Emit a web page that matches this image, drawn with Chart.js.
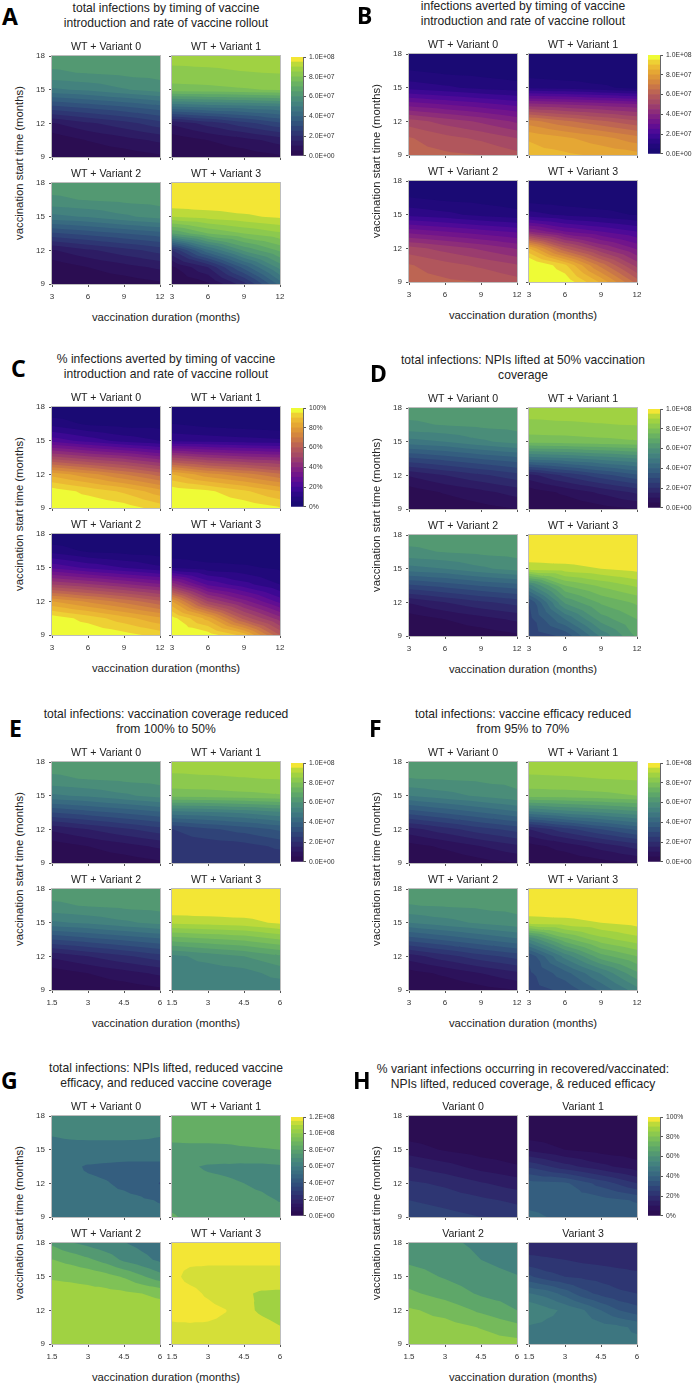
<!DOCTYPE html>
<html>
<head>
<meta charset="utf-8">
<title>vaccination timing contours</title>
<script src="https://cdn.jsdelivr.net/npm/chart.js@4/dist/chart.umd.min.js"></script>
<style>
  body { margin: 0; background: #fff; }
  #page { position: relative; width: 694px; height: 1385px; overflow: hidden; font-family: "Liberation Sans", sans-serif; color: #222; }
  #page canvas { position: absolute; }
  .txt { position: absolute; white-space: nowrap; }
  .title { font-size: 12.1px; line-height: 14.6px; text-align: center; transform: translateX(-50%); }
  .axis { font-size: 11.3px; line-height: 14px; transform: translate(-50%, -50%); }
  .axis.rot { transform: translate(-50%, -50%) rotate(-90deg); }
  .letter { font-family: "Noto Sans", sans-serif; font-weight: 700; font-size: 23px; line-height: 23px; color: #000; }
</style>
</head>
<body>
<div id="page"></div>
<script>
// grid the model was read on, every table below is one list per x column, values at yGrid (9 -> 18)
const yGrid = [9, 10.5, 12, 13.5, 15, 16.5, 18];
const xGridLong = [3, 6, 9, 12];
const xGridShort = [1.5, 3, 4.5, 6];
const xGridShortFine = [1.5, 2.25, 3, 3.75, 4.5, 5.25, 6];

const xTicksLong = [3, 6, 9, 12];
const xTicksShort = [1.5, 3, 4.5, 6];
const yTicks = [9, 12, 15, 18];

const barTicks100 = [0, 20, 40, 60, 80, 100];
const barTicks120 = [0, 20, 40, 60, 80, 100, 120];
const sciLabels100 = ['0.0E+00', '2.0E+07', '4.0E+07', '6.0E+07', '8.0E+07', '1.0E+08'];
const sciLabels120 = ['0.0E+00', '2.0E+07', '4.0E+07', '6.0E+07', '8.0E+07', '1.0E+08', '1.2E+08'];
const pctLabels = ['0%', '20%', '40%', '60%', '80%', '100%'];

const wtTitles = ['WT + Variant 0', 'WT + Variant 1', 'WT + Variant 2', 'WT + Variant 3'];
const variantTitles = ['Variant 0', 'Variant 1', 'Variant 2', 'Variant 3'];

// A: total infections (millions)
const a0 = [[0, 1.5, 9.5, 29, 49, 59.4, 62], [1, 5.2, 14, 32, 51, 60.3, 62], [2, 8, 18, 35, 54.5, 61.3, 62], [4, 11, 23, 38.5, 57.5, 61.9, 62]];
const a1 = [[0, 1.5, 11, 45, 78, 83.5, 87], [1, 5, 17, 47, 78.5, 84, 87], [2, 8, 23, 48, 79.5, 84.8, 87], [4, 12, 29, 50, 80.5, 85.2, 87]];
const a2 = [[0, 1.5, 9.5, 29, 48.5, 59.2, 62], [1, 5, 14, 32, 50.5, 60.3, 62], [2, 8, 18, 35, 54, 61.2, 62], [4, 11, 22, 38, 57, 61.8, 62]];
const a3 = [[0, 4, 20, 65, 90, 100, 100], [4, 15, 44, 75, 92, 100, 100], [18, 37, 61, 80, 94, 100, 100], [42, 57, 71, 84, 96, 100, 100]];
// B: infections averted (millions)
const b0 = [[62, 60.5, 52.5, 33, 13, 5.2, 0], [61, 56.8, 48, 30, 11, 3.5, 0], [60, 54, 44, 27, 8.5, 3, 0], [56.5, 50, 39, 23.5, 7, 2, 0]];
const b1 = [[87, 84.5, 72, 42, 9, 2, 0], [86, 81, 66, 40, 8, 1, 0], [84, 77, 61, 38, 6, 1, 0], [82, 72, 56, 36, 3.5, 1, 0]];
const b2 = [[62, 60.5, 52, 33, 13.5, 5.2, 0], [61, 57, 48, 30, 11.5, 3.5, 0], [60, 54, 44, 27, 8.5, 3, 0], [57, 50.5, 39.5, 24, 6.5, 2, 0]];
const b3 = [[105, 103, 85, 40, 12, 2, 0], [99, 91, 60, 30, 9, 1, 0], [84, 68, 45, 25, 7, 0.5, 0], [63, 48, 34, 20, 4.5, 0.5, 0]];
// C: % infections averted
const c0 = [[100, 98, 83, 52, 23, 8, 0], [99.5, 93.5, 77, 47, 18, 4, 0], [97.5, 89, 70, 43, 13, 3, 0], [93, 82, 63, 37, 10, 3, 0]];
const c1 = [[100, 98.5, 85, 50, 14, 5, 0], [99.5, 96, 77, 45, 13, 3, 0], [98.5, 91, 72, 42, 12, 2, 0], [95.5, 85, 66, 40, 11, 1, 0]];
const c2 = [[100, 98, 80, 50, 24, 8, 0], [99.5, 93, 74, 46, 19, 4, 0], [97, 87, 68, 41, 15, 3, 0], [93, 81, 61, 36, 11, 2, 0]];
const c3 = [[100, 97, 80, 43, 10, 1, 0], [98, 83, 50, 24, 7, 0.5, 0], [88, 58, 37, 17, 6, 0.5, 0], [60, 42, 23, 10, 4, 0, 0]];
// D: total infections, NPIs lifted
const d0 = [[0, 2, 10.5, 29, 48, 59.2, 62], [1, 5.5, 15, 32, 50, 60.3, 62], [3, 8.5, 19, 35.5, 54, 61.2, 62], [5, 12, 23, 38.5, 57, 61.8, 62]];
const d1 = [[0, 2, 13, 47, 77, 84, 87], [1, 6, 21, 49, 77.5, 84.4, 87], [3, 11, 28, 52, 78.5, 84.8, 87], [5, 16, 34, 55, 79.5, 85.2, 87]];
const d2 = [[0, 2, 10.5, 29, 48, 59, 62], [1, 5, 15, 32, 50, 60.3, 62], [2, 8, 19, 35.5, 54, 61.2, 62], [4, 11, 22, 38, 57, 61.8, 62]];
const d3 = [[27, 28, 30, 53, 92, 100, 100], [31, 45, 61, 75, 93, 100, 100], [51, 62.5, 71, 81, 95, 100, 100], [66, 70, 76, 86, 97, 100, 100]];
// E: total infections, coverage reduced
const e0 = [[0, 2, 11, 30, 49, 59.2, 62], [1, 5, 15, 33, 51, 60.3, 62], [2, 8, 19, 36, 54, 61.2, 62], [4, 11, 23, 39, 57, 61.8, 62]];
const e1 = [[21, 22, 24.9, 48, 77, 84, 87], [21, 22, 29, 49, 77.5, 84.4, 87], [21, 23, 32, 51, 78.5, 84.8, 87], [21, 26, 36, 54, 79.5, 85.2, 87]];
const e2 = [[0, 2, 11, 30, 49, 59.2, 62], [1, 5, 15, 33, 51, 60.3, 62], [2, 8, 19, 36, 54, 61.2, 62], [4, 11, 23, 39, 56.5, 61.8, 62]];
const e3 = [[51, 52, 53.5, 72, 91, 100, 100], [51, 52, 57, 74, 92, 100, 100], [51, 53, 60, 76, 93, 100, 100], [51, 57, 64, 80, 96, 100, 100]];
// F: total infections, efficacy reduced
const f0 = [[0, 3, 13, 32, 50, 59.9, 62], [1, 6, 18, 36, 53, 60.4, 62], [3, 10, 23, 40, 56, 61, 62], [5, 14, 27, 44, 59, 61.5, 62]];
const f1 = [[0, 3, 15, 48, 77, 84.3, 87], [1, 7, 23, 52, 77.5, 84.6, 87], [3, 12, 30, 55, 78.5, 85, 87], [5, 17, 36, 58, 80, 85.5, 87]];
const f2 = [[0, 3, 12.5, 32, 50, 59.8, 62], [1, 6, 18, 36, 53, 60.4, 62], [3, 10, 23, 40, 56, 61, 62], [5, 14, 27, 44, 58.5, 61.5, 62]];
const f3 = [[28, 29, 31, 55, 92, 100, 100], [31, 38, 52, 73, 93, 100, 100], [41, 50.5, 68, 83, 95, 100, 100], [53, 64, 75, 88, 97, 100, 100]];
// G: total infections, everything reduced
const g0 = [[53, 53, 53, 53, 56.5, 61, 66], [53, 53, 52, 52, 57, 62, 66], [53, 52.5, 51.5, 49, 57.5, 62, 66], [53, 52, 50.5, 48, 57.5, 62, 66], [53, 52, 48.5, 47, 57.5, 62, 66], [52.5, 51, 46, 47, 57, 62, 66], [52, 49.5, 39.5, 47, 57, 61, 66]];
const g1 = [[81, 77, 74, 73, 77, 84, 87], [78, 76, 73, 71, 77.5, 84, 87], [77, 75, 72, 69, 77.5, 84, 87], [76, 74, 71, 68.5, 78, 84, 87], [75, 73, 70, 68, 79, 84, 87], [74, 72, 68, 68, 79.5, 84, 87], [74, 69.5, 65, 69, 80, 84, 87]];
const g2 = [[105, 105, 105, 104, 99, 90.3, 78], [105, 105, 105, 104, 98, 87, 71], [105, 105, 105, 103, 97, 82, 67], [105, 105, 105, 103, 94, 76, 63], [105, 105, 105, 102, 89, 68, 60.5], [105, 105, 105, 100, 81.5, 63, 57], [105, 105, 104, 98, 74, 58, 54]];
const g3 = [[116, 119, 122, 123, 122, 122, 124], [116, 119, 123, 122, 118, 121.5, 124], [116, 119, 122, 119, 117, 121.5, 124], [116, 118.5, 120.2, 116, 117, 121.5, 124], [116, 117, 113, 111.5, 117, 121.5, 124], [116, 114, 108, 108.5, 117, 121.5, 124], [116, 110.5, 105, 108, 117, 121.5, 124]];
// H: % variant infections in recovered/vaccinated
const h0 = [[29, 25, 21, 15, 7.5, 2.5, 1], [27, 23, 19, 12, 4.5, 1.5, 1], [25, 21, 15.5, 8, 2.5, 1, 1], [23, 19, 12.5, 5.5, 1.5, 1, 1]];
const h1 = [[41, 38.5, 37, 24, 9, 2, 1], [39, 38, 36, 17, 5, 1.5, 1], [38.5, 37, 28, 11.5, 3, 1, 1], [37.5, 34.5, 20, 7, 2, 1, 1]];
const h2 = [[86.4, 84, 81.2, 73.6, 68, 62.4, 60.8], [85.6, 83.2, 77.2, 68.8, 63.2, 60, 57.6], [83.2, 79.6, 70.4, 62.8, 59.2, 56, 54.4], [83.2, 74.4, 64, 60, 56.4, 52.8, 51.2]];
const h3 = [[48, 49.5, 54.9, 45.3, 31, 21, 17.5], [47.5, 48.5, 51.5, 43, 27, 20.5, 17.5], [47, 48, 49, 38, 25, 20, 17], [47, 47.5, 45.5, 32, 24, 19, 16.5], [46.5, 47, 40, 28.5, 23, 18.5, 16], [46, 46, 35, 26, 22, 18, 16], [46.5, 44, 32, 25, 21, 18, 16]];

// colour stops picked off the colour bars
const viridisStops = ['#2a0a4d', '#2c1560', '#2e2f70', '#2f4a7a', '#366480', '#3f7c80', '#4e9376', '#62ac66', '#82c454', '#aad63c', '#f3e635'];
const plasmaStops = ['#160a70', '#24087f', '#44089a', '#6a108f', '#86257f', '#a04468', '#b75c58', '#cf7e42', '#e29e34', '#eec233', '#eefb36'];

function mapColor(stops, t) {
  if (t > 0.97) t = 1; // top band is the pure end colour
  const p = Math.min(0.9999, Math.max(0, t)) * (stops.length - 1);
  const i = Math.floor(p), f = p - i;
  const c = s => [1, 3, 5].map(k => parseInt(s.substr(k, 2), 16));
  const a = c(stops[i]), b = c(stops[i + 1]);
  return 'rgb(' + a.map((v, k) => Math.round(v + (b[k] - v) * f)).join(',') + ')';
}

const panels = [
  { letter: 'A', lx: 2, ly: 5, title: ['total infections by timing of vaccine', 'introduction and rate of vaccine rollout'], ty: 1, left: 52, left2: 172, top: 56, top2: 183, bar: 291, stops: viridisStops, xGrid: xGridLong, xTicks: xTicksLong, tables: [a0, a1, a2, a3], names: wtTitles, barLabels: sciLabels100 },
  { letter: 'B', lx: 357, ly: 4, title: ['infections averted by timing of vaccine', 'introduction and rate of vaccine rollout'], ty: -1, left: 409, left2: 529, top: 54, top2: 181, bar: 648, stops: plasmaStops, xGrid: xGridLong, xTicks: xTicksLong, tables: [b0, b1, b2, b3], names: wtTitles, barLabels: sciLabels100 },
  { letter: 'C', lx: 11, ly: 357, title: ['% infections averted by timing of vaccine', 'introduction and rate of vaccine rollout'], ty: 352, left: 52, left2: 172, top: 407, top2: 534, bar: 291, stops: plasmaStops, xGrid: xGridLong, xTicks: xTicksLong, tables: [c0, c1, c2, c3], names: wtTitles, barLabels: pctLabels },
  { letter: 'D', lx: 370, ly: 362, title: ['total infections: NPIs lifted at 50% vaccination', 'coverage'], ty: 353, left: 409, left2: 529, top: 408, top2: 535, bar: 648, stops: viridisStops, xGrid: xGridLong, xTicks: xTicksLong, tables: [d0, d1, d2, d3], names: wtTitles, barLabels: sciLabels100 },
  { letter: 'E', lx: 9, ly: 717, title: ['total infections: vaccination coverage reduced', 'from 100% to 50%'], ty: 707, left: 52, left2: 172, top: 762, top2: 889, bar: 291, stops: viridisStops, xGrid: xGridShort, xTicks: xTicksShort, tables: [e0, e1, e2, e3], names: wtTitles, barLabels: sciLabels100 },
  { letter: 'F', lx: 369, ly: 717, title: ['total infections: vaccine efficacy reduced', 'from 95% to 70%'], ty: 707, left: 409, left2: 529, top: 762, top2: 889, bar: 648, stops: viridisStops, xGrid: xGridLong, xTicks: xTicksLong, tables: [f0, f1, f2, f3], names: wtTitles, barLabels: sciLabels100 },
  { letter: 'G', lx: 1, ly: 1069, title: ['total infections: NPIs lifted, reduced vaccine', 'efficacy, and reduced vaccine coverage'], ty: 1061, left: 52, left2: 172, top: 1116, top2: 1243, bar: 291, stops: viridisStops, xGrid: xGridShortFine, xTicks: xTicksShort, tables: [g0, g1, g2, g3], names: wtTitles, barLabels: sciLabels120, barMax: 120, steps: [10, 10, 10, 10] },
  { letter: 'H', lx: 353, ly: 1069, title: ['% variant infections occurring in recovered/vaccinated:', 'NPIs lifted, reduced coverage, & reduced efficacy'], ty: 1062, left: 409, left2: 529, top: 1116, top2: 1243, bar: 648, stops: viridisStops, xGrid: xGridShort, xGrid3: xGridShortFine, xTicks: xTicksShort, tables: [h0, h1, h2, h3], names: variantTitles, barLabels: pctLabels, steps: [5, 5, 8, 5] }
];

const page = document.getElementById('page');
const FONT = '"Liberation Sans", sans-serif';
const PLOT_W = 108, PLOT_H = 101, GUTTER = 30, TITLE_H = 16, XAXIS_H = 22;

function addText(cls, text, x, y) {
  const el = document.createElement('div');
  el.className = 'txt ' + cls;
  el.innerHTML = text;
  el.style.left = x + 'px';
  el.style.top = y + 'px';
  page.appendChild(el);
}

function addCanvas(left, top, w, h) {
  const cv = document.createElement('canvas');
  cv.width = w; cv.height = h;
  cv.style.left = left + 'px'; cv.style.top = top + 'px';
  cv.style.width = w + 'px'; cv.style.height = h + 'px';
  page.appendChild(cv);
  return cv;
}

function clipTriangle(tri, level) {
  const out = [];
  for (let i = 0; i < 3; i++) {
    const p = tri[i], q = tri[(i + 1) % 3];
    if (p.z >= level) out.push(p);
    if ((p.z >= level) !== (q.z >= level)) {
      const t = (level - p.z) / (q.z - p.z);
      out.push({ px: p.px + (q.px - p.px) * t, py: p.py + (q.py - p.py) * t, z: level });
    }
  }
  return out;
}

// fills the bands of one subplot from the grid points of its dataset
const contourFill = {
  id: 'contourFill',
  beforeDatasetsDraw(chart) {
    const o = chart.options.plugins.contourFill;
    const sx = chart.scales.x, sy = chart.scales.y, ctx = chart.ctx;
    const pts = chart.data.datasets[0].data.map(d => ({ px: sx.getPixelForValue(d.x), py: sy.getPixelForValue(d.y), z: d.z }));
    const nx = o.nx, ny = o.ny;
    const tris = [];
    for (let i = 0; i < nx - 1; i++) {
      for (let j = 0; j < ny - 1; j++) {
        const a = pts[i * ny + j], b = pts[(i + 1) * ny + j], c = pts[(i + 1) * ny + j + 1], d = pts[i * ny + j + 1];
        const m = { px: (a.px + c.px) / 2, py: (a.py + c.py) / 2, z: (a.z + b.z + c.z + d.z) / 4 };
        tris.push([a, b, m], [b, c, m], [c, d, m], [d, a, m]);
      }
    }
    const n = o.max / o.step;
    for (let k = 0; k <= Math.ceil(n); k++) {
      const level = k === 0 ? -1 : k * o.step;
      ctx.beginPath();
      tris.forEach(t => {
        const poly = clipTriangle(t, level);
        if (poly.length < 3) return;
        ctx.moveTo(poly[0].px, poly[0].py);
        for (let i = 1; i < poly.length; i++) ctx.lineTo(poly[i].px, poly[i].py);
        ctx.closePath();
      });
      ctx.fillStyle = mapColor(o.stops, (k + 0.5) / n);
      ctx.fill();
    }
  },
  afterDraw(chart) {
    const a = chart.chartArea, ctx = chart.ctx;
    ctx.strokeStyle = '#bdbdbd';
    ctx.lineWidth = 1;
    ctx.strokeRect(a.left - 0.5, a.top - 0.5, a.right - a.left + 1, a.bottom - a.top + 1);
  }
};

function drawSubplot(p, idx) {
  const col = idx % 2, row = idx > 1 ? 1 : 0;
  const plotLeft = col ? p.left2 : p.left, plotTop = row ? p.top2 : p.top;
  const table = p.tables[idx];
  const xGrid = (idx === 3 && p.xGrid3) ? p.xGrid3 : p.xGrid;
  const points = [];
  xGrid.forEach((x, i) => yGrid.forEach((y, j) => points.push({ x: x, y: y, z: table[i][j] })));
  const cv = addCanvas(plotLeft - GUTTER, plotTop - TITLE_H, PLOT_W + GUTTER * 2, PLOT_H + TITLE_H + XAXIS_H);
  const xMin = p.xTicks[0], xMax = p.xTicks[p.xTicks.length - 1];
  new Chart(cv, {
    type: 'scatter',
    data: { datasets: [{ data: points, pointRadius: 0, showLine: false }] },
    plugins: [contourFill],
    options: {
      responsive: false,
      animation: false,
      devicePixelRatio: 1,
      events: [],
      layout: { autoPadding: false, padding: { left: 0, right: GUTTER, top: 0, bottom: 0 } },
      plugins: {
        legend: { display: false },
        tooltip: { enabled: false },
        title: { display: true, fullSize: false, text: p.names[idx], color: '#222', font: { family: FONT, size: 10.6, weight: 'normal', lineHeight: '14px' }, padding: { top: 0, bottom: 2 } },
        contourFill: { nx: xGrid.length, ny: yGrid.length, max: p.barMax || 100, step: p.steps ? p.steps[idx] : 5, stops: p.stops }
      },
      scales: {
        x: {
          type: 'linear', min: xMin, max: xMax,
          afterBuildTicks: s => { s.ticks = p.xTicks.map(v => ({ value: v })); },
          afterFit: s => { s.height = XAXIS_H; },
          border: { color: '#bdbdbd' },
          grid: { drawOnChartArea: false, tickLength: 3, tickColor: '#555' },
          ticks: { display: row === 1, color: '#333', padding: 5, maxRotation: 0, autoSkip: false, font: { family: FONT, size: 8 }, callback: v => String(v) }
        },
        y: {
          type: 'linear', min: yTicks[0], max: yTicks[yTicks.length - 1],
          afterBuildTicks: s => { s.ticks = yTicks.map(v => ({ value: v })); },
          afterFit: s => { s.width = GUTTER; },
          border: { color: '#bdbdbd' },
          grid: { drawOnChartArea: false, tickLength: 3, tickColor: '#555' },
          ticks: { display: col === 0, color: '#333', padding: 4, autoSkip: false, font: { family: FONT, size: 8 }, callback: v => String(v) }
        }
      }
    }
  });
}

function drawColorBar(p) {
  const max = p.barMax || 100, ticks = max === 120 ? barTicks120 : barTicks100;
  const n = max === 120 ? 24 : 20;
  const datasets = [];
  for (let k = 0; k < n; k++) {
    datasets.push({ data: [max / n], backgroundColor: mapColor(p.stops, (k + 0.5) / n), borderWidth: 0, barPercentage: 1, categoryPercentage: 1 });
  }
  const cv = addCanvas(p.bar, p.top - 6, 12 + 46, PLOT_H + 12);
  new Chart(cv, {
    type: 'bar',
    data: { labels: [''], datasets: datasets },
    options: {
      responsive: false,
      animation: false,
      devicePixelRatio: 1,
      events: [],
      layout: { autoPadding: false, padding: { top: 6, bottom: 6 } },
      plugins: { legend: { display: false }, tooltip: { enabled: false } },
      scales: {
        x: { stacked: true, display: false },
        y: {
          stacked: true, position: 'right', min: 0, max: max,
          afterBuildTicks: s => { s.ticks = ticks.map(v => ({ value: v })); },
          afterFit: s => { s.width = 46; },
          border: { color: '#666' },
          grid: { drawOnChartArea: false, tickLength: 3, tickColor: '#555' },
          ticks: { color: '#333', padding: 3, autoSkip: false, font: { family: FONT, size: 6.8 }, callback: v => p.barLabels[ticks.indexOf(v)] }
        }
      }
    }
  });
}

panels.forEach(p => {
  const mid = (p.left + p.left2 + PLOT_W) / 2;
  addText('letter', p.letter, p.lx, p.ly);
  addText('title', p.title.join('<br>'), mid, p.ty);
  addText('axis', 'vaccination duration (months)', mid, p.top2 + PLOT_H + 33);
  addText('axis rot', 'vaccination start time (months)', p.left - 33.5, (p.top + p.top2 + PLOT_H) / 2 - 7);
  p.tables.forEach((t, i) => drawSubplot(p, i));
  drawColorBar(p);
});
</script>
</body>
</html>
